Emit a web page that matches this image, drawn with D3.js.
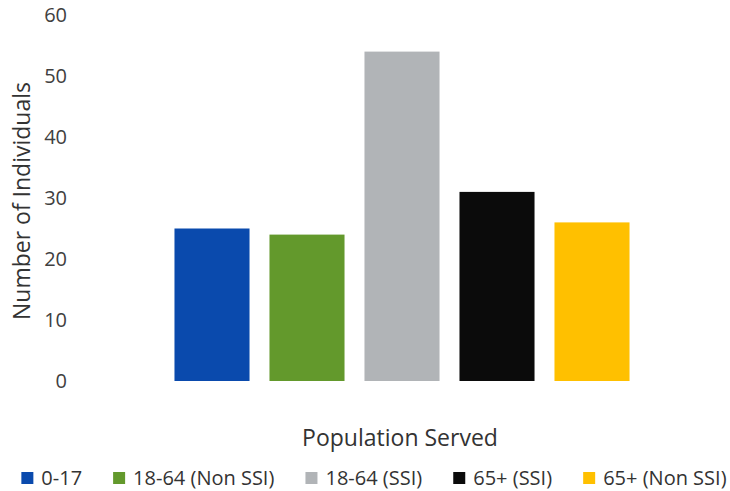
<!DOCTYPE html>
<html>
<head>
<meta charset="utf-8">
<script src="https://cdn.jsdelivr.net/npm/d3@7"></script>
<style>
  html, body { margin: 0; padding: 0; background: #fff; }
  svg { display: block; font-family: "Open Sans", sans-serif; }
</style>
</head>
<body>
<svg id="chart" width="730" height="491"></svg>
<script>
// ---- data ----
const categories = ["0-17", "18-64 (Non SSI)", "18-64 (SSI)", "65+ (SSI)", "65+ (Non SSI)"];
const values = [25, 24, 54, 31, 26];
const colors = ["#0a4aad", "#63992c", "#b1b4b7", "#0b0b0b", "#ffc000"];
const yTicks = [0, 10, 20, 30, 40, 50, 60];
const yTitle = "Number of Individuals";
const xTitle = "Population Served";

// ---- layout ----
const svg = d3.select("#chart");
const x = d3.scaleBand().domain(categories).range([164.5, 639.5]).paddingInner(0.21).paddingOuter(0.105);
const y = d3.scaleLinear().domain([0, 60]).range([381, 15]);

// bars
svg.append("g").selectAll("rect").data(categories).join("rect")
  .attr("x", d => x(d))
  .attr("width", x.bandwidth())
  .attr("y", (d, i) => y(values[i]))
  .attr("height", (d, i) => y(0) - y(values[i]))
  .attr("fill", (d, i) => colors[i]);

// y axis (labels only)
const yAxis = d3.axisLeft(y).tickValues(yTicks).tickSize(0).tickPadding(0);
const gy = svg.append("g").attr("transform", "translate(67,0)").call(yAxis);
gy.select(".domain").remove();
gy.selectAll("text")
  .attr("font-family", "Open Sans, sans-serif")
  .attr("font-size", 20)
  .attr("fill", "#404040");

// y title
svg.append("text")
  .attr("transform", "translate(30,201) rotate(-90)")
  .attr("text-anchor", "middle")
  .attr("font-size", 23)
  .attr("fill", "#333")
  .text(yTitle);

// x title
svg.append("text")
  .attr("x", 400).attr("y", 446)
  .attr("text-anchor", "middle")
  .attr("font-size", 23)
  .attr("fill", "#333")
  .text(xTitle);

// legend
const leg = svg.append("g");
const items = leg.selectAll("g").data(categories).join("g");
items.append("rect")
  .attr("width", 12).attr("height", 12)
  .attr("y", -6)
  .attr("fill", (d, i) => colors[i]);
items.append("text")
  .attr("x", 20).attr("dy", "0.35em")
  .attr("font-size", 20)
  .attr("fill", "#333")
  .text(d => d);
let cx = 0;
const gap = 31;
items.each(function() {
  const w = this.getBBox().width;
  d3.select(this).attr("transform", `translate(${cx},0)`);
  cx += w + gap;
});
const total = cx - gap;
leg.attr("transform", `translate(${(20 + 728 - total) / 2},478)`);
</script>
</body>
</html>
